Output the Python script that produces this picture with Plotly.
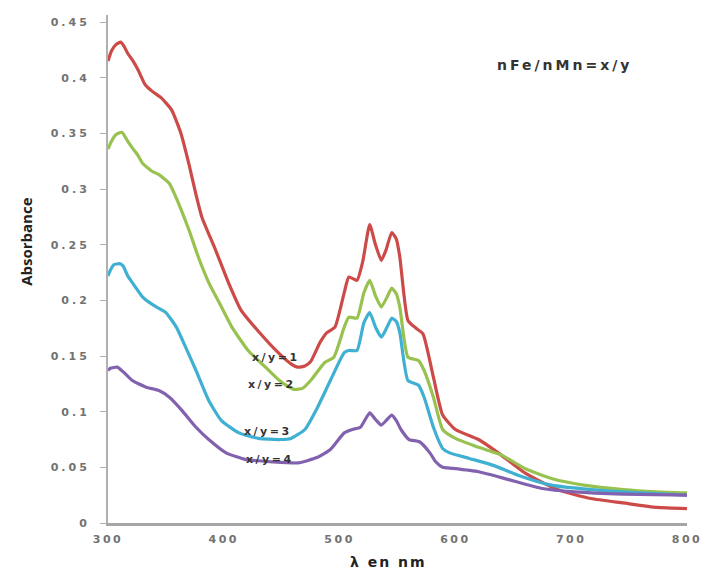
import plotly.graph_objects as go

# ---- data ----
wl_1 = [300, 303, 307, 311, 314, 317, 321, 326, 332, 338, 346, 355, 363, 370, 376, 381, 393, 404, 415, 430, 447, 458, 464, 470, 475, 483, 489, 496, 504, 508, 515, 520, 526, 531, 536, 540, 545, 549, 552, 559, 566, 572, 581, 589, 600, 620, 637, 660, 688, 717, 745, 774, 800]
abs_1 = [0.415, 0.424, 0.430, 0.432, 0.428, 0.422, 0.416, 0.407, 0.394, 0.388, 0.382, 0.371, 0.350, 0.322, 0.295, 0.275, 0.245, 0.216, 0.191, 0.172, 0.153, 0.143, 0.140, 0.141, 0.145, 0.162, 0.171, 0.176, 0.207, 0.221, 0.218, 0.235, 0.268, 0.250, 0.236, 0.245, 0.261, 0.255, 0.239, 0.182, 0.175, 0.170, 0.131, 0.097, 0.084, 0.075, 0.063, 0.045, 0.030, 0.022, 0.018, 0.014, 0.013]

wl_2 = [300, 303, 307, 312, 317, 321, 326, 330, 338, 344, 353, 361, 370, 378, 387, 396, 407, 421, 436, 447, 455, 461, 468, 475, 487, 495, 504, 508, 515, 521, 526, 531, 536, 541, 545, 549, 552, 559, 568, 573, 581, 589, 600, 620, 640, 660, 683, 711, 745, 774, 800]
abs_2 = [0.336, 0.343, 0.349, 0.351, 0.343, 0.337, 0.330, 0.323, 0.316, 0.313, 0.305, 0.287, 0.263, 0.239, 0.216, 0.198, 0.176, 0.155, 0.140, 0.129, 0.123, 0.120, 0.121, 0.128, 0.144, 0.149, 0.176, 0.185, 0.184, 0.207, 0.218, 0.204, 0.194, 0.203, 0.211, 0.206, 0.194, 0.149, 0.146, 0.137, 0.113, 0.084, 0.076, 0.068, 0.061, 0.049, 0.040, 0.034, 0.030, 0.028, 0.027]

wl_3 = [300, 302, 305, 310, 313, 317, 321, 330, 336, 342, 350, 359, 367, 376, 387, 398, 413, 430, 449, 458, 470, 481, 492, 504, 508, 515, 521, 526, 531, 536, 541, 545, 549, 552, 559, 568, 573, 581, 589, 595, 612, 632, 654, 683, 717, 760, 800]
abs_3 = [0.222, 0.227, 0.232, 0.233, 0.231, 0.222, 0.216, 0.203, 0.198, 0.194, 0.189, 0.176, 0.158, 0.137, 0.110, 0.092, 0.081, 0.076, 0.075, 0.076, 0.084, 0.104, 0.128, 0.153, 0.155, 0.155, 0.180, 0.189, 0.176, 0.167, 0.176, 0.184, 0.181, 0.171, 0.128, 0.124, 0.113, 0.086, 0.067, 0.063, 0.058, 0.052, 0.043, 0.034, 0.030, 0.027, 0.025]

wl_4 = [300, 302, 308, 314, 321, 333, 344, 353, 364, 376, 387, 402, 419, 441, 464, 481, 492, 504, 511, 518, 526, 531, 536, 541, 545, 549, 553, 560, 569, 578, 583, 589, 598, 620, 646, 675, 703, 745, 800]
abs_4 = [0.137, 0.139, 0.140, 0.135, 0.128, 0.122, 0.119, 0.113, 0.101, 0.086, 0.075, 0.063, 0.057, 0.055, 0.054, 0.059, 0.066, 0.081, 0.084, 0.086, 0.099, 0.093, 0.088, 0.093, 0.097, 0.092, 0.084, 0.075, 0.073, 0.063, 0.055, 0.050, 0.049, 0.046, 0.039, 0.031, 0.028, 0.026, 0.025]

series_names = ["x/y=1", "x/y=2", "x/y=3", "x/y=4"]
series_colors = ["#CC4B48", "#98C250", "#3FAFD2", "#8262AE"]
label_pos_x = [445, 442, 438, 440]
label_pos_y = [0.149, 0.124, 0.082, 0.057]

x_ticks = [300, 400, 500, 600, 700, 800]
x_tick_text = ["300", "400", "500", "600", "700", "800"]
y_ticks = [0, 0.05, 0.1, 0.15, 0.2, 0.25, 0.3, 0.35, 0.4, 0.45]
y_tick_text = ["0", "0.05", "0.1", "0.15", "0.2", "0.25", "0.3", "0.35", "0.4", "0.45"]

BOLD_FONT = "DejaVu Sans"


def spaced(s, px):
    return '<span style="letter-spacing:%gpx">%s</span>' % (px, s)


fig = go.Figure()
for wl, ab, name, col in zip([wl_1, wl_2, wl_3, wl_4], [abs_1, abs_2, abs_3, abs_4], series_names, series_colors):
    fig.add_trace(go.Scatter(x=wl, y=ab, mode="lines", name=name,
                             line=dict(color=col, width=3.2, shape="spline", smoothing=0.5)))

for name, lx, ly in zip(series_names, label_pos_x, label_pos_y):
    fig.add_annotation(x=lx, y=ly, text=spaced(name, 2.5), showarrow=False,
                       font=dict(family=BOLD_FONT, size=11, color="#333333", weight="bold"))

fig.add_annotation(x=694, y=0.4115, text=spaced("nFe/nMn=x/y", 3), showarrow=False,
                   font=dict(family=BOLD_FONT, size=14, color="#333333", weight="bold"))

# axis titles as annotations (positioned like the reference)
fig.add_annotation(xref="paper", yref="paper", x=-0.142, y=0.555, text="Absorbance",
                   textangle=-90, showarrow=False, xanchor="center", yanchor="middle",
                   font=dict(family="Open Sans", size=15, color="#222222", weight="bold"))
fig.add_annotation(xref="paper", yref="paper", x=0.485, y=-0.0965, text=spaced("λ en nm", 2),
                   showarrow=False, xanchor="center", yanchor="bottom",
                   font=dict(family=BOLD_FONT, size=14, color="#222222", weight="bold"))

fig.update_layout(
    width=714, height=573,
    margin=dict(l=108, r=20, t=15, b=50),
    paper_bgcolor="white", plot_bgcolor="white",
    showlegend=False,
)
fig.update_xaxes(range=[300, 800], tickvals=x_ticks, ticktext=[spaced(t, 2.5) for t in x_tick_text],
                 showgrid=False, zeroline=False,
                 showline=True, linecolor="#A6A6A6", linewidth=3,
                 ticks="", ticklabelstandoff=4,
                 tickfont=dict(family=BOLD_FONT, size=11, color="#727272", weight="bold"))
fig.update_yaxes(range=[0, 0.4564], tickvals=y_ticks, ticktext=[spaced(t, 3) for t in y_tick_text],
                 showgrid=False, zeroline=False,
                 showline=True, linecolor="#B0B0B0", linewidth=2,
                 ticks="outside", ticklen=6, tickcolor="#B0B0B0", tickwidth=1,
                 ticklabelstandoff=8,
                 tickfont=dict(family=BOLD_FONT, size=11, color="#727272", weight="bold"))

fig.write_html("out.html")
